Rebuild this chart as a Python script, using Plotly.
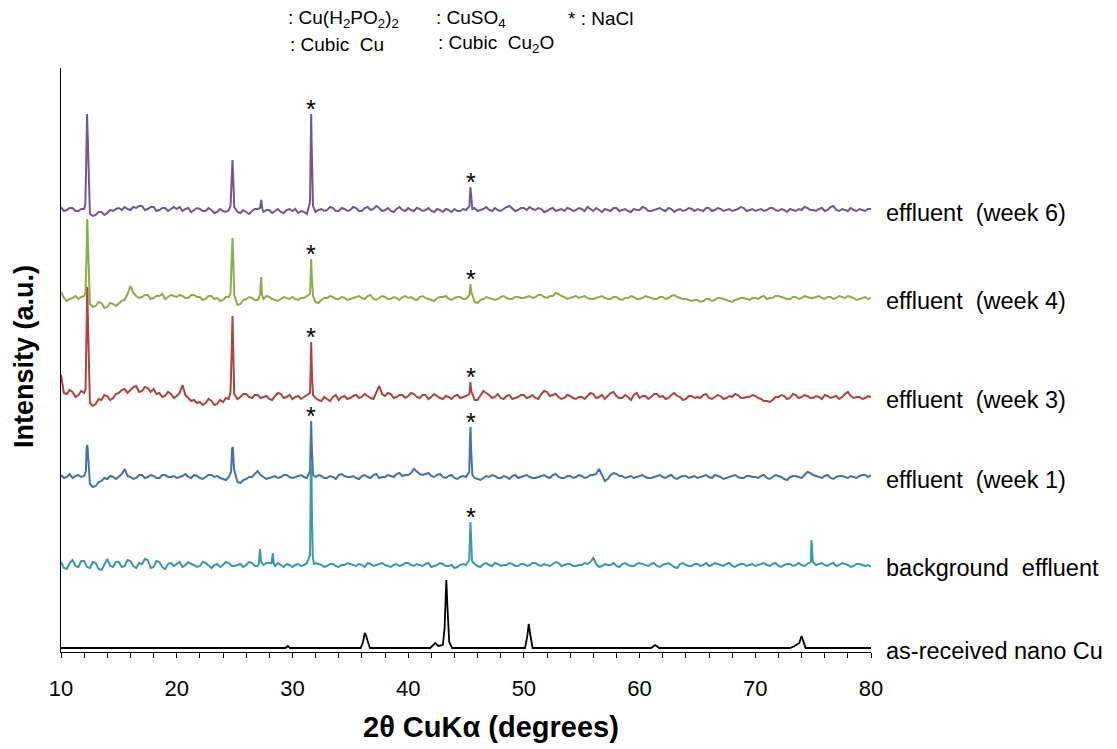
import numpy as np
import plotly.graph_objects as go

# ---------------- data ----------------
grid = np.round(np.arange(10, 80.001, 0.25), 2)  # 2theta sampling of the baselines

labels = ["effluent\u00a0 (week 6)", "effluent\u00a0 (week 4)", "effluent\u00a0 (week 3)",
          "effluent\u00a0 (week 1)", "background\u00a0 effluent", "as-received nano Cu"]
offsets = [442, 354, 255, 175, 87, 4]

base_week6 = [3, -1, 0, 2, 2, -1, -1, 1, 1, 0, -4, -6, -5, -2, -2, -5, -3, 0, -1, 1,
              2, 0, 3, 1, 0, 3, 2, 4, 4, 0, 1, 3, 3, -1, 0, 2, 2, -1, 1, 3,
              1, 3, -1, 1, 2, -2, 0, 2, 1, -1, -1, 2, 0, -3, -2, 1, -1, -2, 0, 2,
              0, -2, -3, 0, -2, -4, -1, 1, 1, -2, -2, 0, 0, -3, -1, 1, -2, -3, 0, 1,
              -1, 1, -3, -1, -2, -4, 0, 1, -2, 0, 1, -1, 0, 3, 2, -1, -1, 2, 1, -1,
              0, 3, 2, -1, -1, 2, 3, 0, 1, 4, 2, -1, 0, 2, -1, -2, 1, 3, 0, -1,
              2, 0, -1, 2, 1, -1, 0, 2, -1, -2, 1, 0, -2, 1, 0, -2, 1, -1, -1, 1,
              0, -1, 0, 2, -1, 0, 1, 3, 0, -1, 2, 0, -1, 1, 3, 4, 1, -1, 0, 2,
              2, 0, 3, 1, 0, 2, 1, -2, -1, 1, 2, -1, 0, 1, -1, 2, 1, -1, 0, 2,
              1, -1, 3, 1, -1, 2, 0, -2, 1, 0, -1, 2, 2, -1, 0, 1, -1, -2, 1, 0,
              0, 3, 2, -1, -1, 0, 1, 2, 0, -1, 2, 1, -2, 0, 1, -1, 0, 2, 1, -1,
              1, 0, -1, 2, 2, -1, 0, 2, 1, -1, 0, 1, -1, 0, 1, 3, 2, -1, 0, 1,
              -1, 0, 1, -1, 0, 2, 2, 0, -1, 1, 0, -2, 1, 0, -1, 1, 0, 3, 2, 0,
              0, -1, 1, 2, -1, 0, 3, 4, 0, -1, 1, 0, -1, 2, 0, -1, 1, 0, -1, 1,
              1]
peak_x_week6 = [12.1, 12.18, 12.25, 12.32, 12.42, 24.65, 24.75, 24.82, 24.9, 24.97,
                27.2, 27.3, 27.4, 31.52, 31.57, 31.62, 31.68, 31.78, 45.3, 45.38, 45.45, 45.55]
peak_y_week6 = [6, 48, 96, 70, 8, 4, 30, 50, 28, 3,
                2, 10, 1, 8, 50, 96, 55, 4, 4, 23, 12, 1]

base_week4 = [6, 0, -3, -1, 0, 2, -1, 1, 2, 0, -6, -9, -8, -4, -5, -10, -9, -5, -6, -8,
              -5, -3, -2, 4, 12, 5, 2, 0, 1, 3, 3, -1, 0, 2, 2, 4, -1, 1, 3, 2,
              1, 3, 2, 0, 0, 3, 3, 1, 1, -2, -1, 2, 2, -1, 0, -3, -2, 1, 1, 3,
              -4, -7, -6, -2, -1, 1, 0, -2, -2, 0, -1, 2, 1, -1, -2, -3, -1, 1, 0, -1,
              1, -1, -2, 0, 0, 2, -1, -2, -4, -5, -2, 0, 0, 2, 1, -1, -1, 1, 0, -2,
              -1, 0, 1, 2, 0, -1, 2, 3, -1, -2, 0, 2, 1, -1, -1, 1, 0, -2, 1, 2,
              0, 1, -1, -2, 1, 2, 0, -1, -2, -3, 0, 1, 1, 2, -1, -2, 0, 1, 1, -1,
              -1, 0, -2, -4, -5, -2, -1, 1, 0, -1, -2, -1, 1, 2, 0, -1, -1, 1, 1, 0,
              0, 1, 2, 0, 1, 3, 3, 1, 0, 2, 2, 5, 4, 2, 1, -1, 0, 1, 2, 0,
              1, 2, 0, -1, -1, 0, 1, 2, 0, -1, -1, 1, 1, -1, -2, 0, 0, 2, 1, -1,
              -1, 0, 2, 1, 0, -1, -1, 1, 1, -1, 0, 2, 3, 1, 0, -1, -1, -2, -3, -2,
              -2, -4, -3, -1, -1, -3, -2, 0, 0, -1, -2, -3, -4, -2, -1, 0, 0, -1, -2, 0,
              0, -1, 1, 2, -1, 0, 0, 2, 2, 1, 0, -1, -1, 1, 1, -1, 0, 2, 1, 0,
              0, 1, 2, 0, -1, 1, 1, -1, 0, 2, 1, 0, 2, 1, 0, -2, -1, 0, 1, -1,
              0]
peak_x_week4 = [12.12, 12.2, 12.27, 12.34, 12.44, 24.65, 24.75, 24.82, 24.9, 24.97,
                27.2, 27.3, 27.38, 31.52, 31.57, 31.62, 31.68, 31.78, 45.3, 45.38, 45.46]
peak_y_week4 = [6, 40, 79, 50, 4, 5, 35, 60, 35, 3,
                3, 21, 3, 4, 20, 39, 20, 2, 3, 14, 6]

base_week3 = [22, 4, 3, 7, 5, 0, 2, 6, 4, 0, -6, -9, -7, -2, -3, 2, 1, -3, -1, 3,
              4, 7, 8, 4, 7, 10, 11, 5, 6, 10, 9, 5, 8, 3, 4, 0, 1, 5, 3, -1,
              1, 4, 12, 2, -1, -4, -3, -6, -5, -8, -6, -2, -4, -8, -7, -3, -5, -1, -2, 0,
              1, -2, 0, 3, 3, 0, -1, 2, 2, -1, 0, 1, -2, -3, 1, 4, 3, -1, 0, 2,
              -2, 0, 1, -2, 0, 2, -3, -1, -1, -3, -4, 0, -2, -4, 0, 2, -3, 0, 1, -2,
              -1, 1, 2, -1, 0, 3, 1, -1, -2, 4, 11, 3, 1, 4, 3, -1, 0, 2, 2, -1,
              1, 4, 3, 0, -1, 2, 2, -2, 0, 3, 1, -1, -2, 1, 0, -2, 1, 2, -1, 0,
              1, -1, 0, -3, -3, 2, 6, 4, 2, -1, 0, 3, -1, -2, 1, 2, -2, -1, 0, 2,
              2, -1, 0, 2, -1, -2, 3, 6, 5, 1, 2, 3, 0, -2, -1, 2, 1, -1, -2, 0,
              0, -2, 1, 4, 3, -1, 0, 2, -2, 1, 4, 5, 1, -1, -1, 2, 0, -3, 2, 4,
              -1, 1, 1, -2, 0, 3, 3, 0, 1, -2, -1, 2, 4, 1, 0, -3, -2, 1, 1, -1,
              0, -1, 2, 3, -1, -2, 0, 2, 1, -2, -1, 1, 0, 3, 2, -1, -1, 0, 0, 2,
              1, -1, -2, -4, -4, -5, -3, 0, 0, 2, 1, -2, -1, 3, 2, -1, 0, 2, 1, -1,
              -1, 1, 0, -2, 2, 1, -1, 0, 1, -2, 0, 3, 5, 1, -1, 0, 0, -2, -1, 1,
              0]
peak_x_week3 = [12.12, 12.2, 12.27, 12.34, 12.44, 24.65, 24.75, 24.82, 24.9, 24.97,
                31.52, 31.57, 31.62, 31.68, 31.78, 45.3, 45.38, 45.46]
peak_y_week3 = [8, 60, 110, 70, 5, 5, 45, 81, 40, 3,
                4, 25, 55, 25, 2, 3, 15, 6]

base_week1 = [2, -1, 0, 3, -1, 1, 2, 0, 1, 0, -7, -10, -9, -5, -4, -1, -2, 1, 0, -2,
              1, 3, 8, 1, 0, -2, -1, 2, 2, -1, 0, 2, 1, -1, -1, 2, 2, 0, 0, 1,
              -1, 0, 1, 3, 0, -1, 2, 1, -1, -2, 0, 2, 2, 0, 1, -1, -2, -3, 0, 2,
              -3, -5, -6, -3, -2, 0, 0, 3, 6, 2, 0, -2, -1, 0, 1, -1, 0, 2, 2, 0,
              -1, 0, 1, 2, 0, -1, -2, -1, 0, 2, 1, -1, -1, 1, 0, -2, 2, 3, 1, 0,
              0, 1, -1, -2, 1, 2, 0, -1, 2, 3, -1, 0, 0, 2, 1, 0, 3, 4, 1, 2,
              2, 4, 8, 5, 3, 2, 3, 4, 1, 0, 2, 3, 0, -1, 1, 2, -1, -2, 0, 1,
              0, 1, 0, -1, -2, -3, -1, 1, 0, 2, 1, -1, -1, 1, 0, -2, 1, 2, -1, 0,
              1, 2, 0, -1, -1, 0, 1, 2, 0, -1, 2, 3, 0, -1, -1, 1, 1, -1, 0, 2,
              1, -1, 0, 2, 2, 3, 8, 2, -4, -2, 2, 4, 3, 1, 1, -1, 0, 1, -1, 0,
              1, 2, 0, -1, -1, 0, 1, 2, 0, -1, 1, 2, -1, -2, 0, 1, 1, -1, 0, 1,
              -1, 0, 1, 2, 0, -1, 2, 1, 0, -2, -1, 0, 1, 2, 0, -1, -1, 1, 1, 0,
              0, -1, 1, 2, -1, -2, 0, 2, 1, 0, -2, -3, 0, 1, 1, 0, -1, 2, 5, 4,
              2, 1, 0, -1, 1, 2, -1, -2, 0, 1, 1, 0, -1, 1, 0, -1, 1, 2, 2, 0,
              2]
peak_x_week1 = [12.15, 12.22, 12.28, 12.35, 12.44, 24.7, 24.78, 24.85, 24.95,
                31.52, 31.57, 31.62, 31.68, 31.78, 45.28, 45.34, 45.39, 45.45, 45.55]
peak_y_week1 = [6, 30, 32, 20, 4, 5, 28, 30, 8,
                6, 32, 56, 28, 2, 5, 36, 50, 25, 2]

base_background = [3, -3, -4, 2, 5, -1, -2, 4, 4, -2, -3, 3, 2, -4, -5, 1, 6, -1, -2, 3,
                   3, -2, -1, 5, 4, -1, -3, 2, 1, 6, 5, -3, -2, 4, 3, -2, -4, 1, 2, -1,
                   1, 3, -2, 0, 3, 1, 0, -2, -1, 3, 2, -1, -3, 0, 1, -2, 0, 3, 2, -1,
                   -1, 0, 1, -2, 0, 3, 2, -1, -1, 1, 0, 2, 2, 0, -1, 2, 0, -2, 1, 0,
                   -2, 0, 1, -1, 0, 2, -1, 0, 2, 1, 0, -2, -1, 1, 1, -1, -2, 0, 0, 2,
                   1, 0, -1, 1, 0, -2, 2, 1, -1, 0, 1, 2, 0, -1, -2, 0, 1, -1, 0, 2,
                   2, 0, -1, 1, 0, -1, 1, 2, -2, -1, 0, 2, 1, -1, -1, 0, -3, -2, 0, 1,
                   0, -1, 0, 1, -1, -2, 1, 2, 0, -1, 2, 1, -1, 0, 0, 2, 1, -1, -1, 1,
                   1, -1, 0, 2, 2, 0, -1, 1, 0, -1, 1, 3, 2, -1, 0, 1, 1, -1, -1, 0,
                   0, 2, 1, 3, 7, 1, -2, -1, 1, 0, 0, 2, -1, -2, 1, 2, 0, -1, -1, 1,
                   2, 1, 0, -1, 1, 2, -1, -2, 0, 1, 2, 0, -2, -3, 1, 2, 0, -1, -1, 1,
                   1, -1, 0, 2, -1, 0, 2, 1, 0, -1, 1, 2, -1, -2, 0, 1, 1, -1, 0, 1,
                   -1, 0, 1, 2, 0, -1, 1, 2, -1, -2, 0, 1, 1, -1, 0, 2, 0, -1, 1, 0,
                   -1, 0, 1, 2, 0, -1, 1, 2, -1, 0, 2, 1, 0, -2, -1, 1, 1, 0, -1, 0,
                   -2]
peak_x_background = [27.1, 27.2, 27.3, 28.2, 28.3, 28.4,
                     31.52, 31.56, 31.6, 31.64, 31.69, 31.76, 31.86,
                     45.28, 45.33, 45.38, 45.44, 45.52,
                     74.8, 74.86, 74.92, 74.98]
peak_y_background = [2, 16, 3, 2, 12, 1,
                     10, 60, 102, 95, 50, 8, 1,
                     5, 30, 43, 28, 4,
                     3, 25, 14, 3]

x_ascu = [10, 29.4, 29.6, 29.8, 35.9, 36.1, 36.25, 36.35, 36.5, 36.7,
          41.9, 42.2, 42.35, 42.6, 43.0, 43.15, 43.3, 43.4, 43.55, 43.8,
          50.1, 50.3, 50.42, 50.52, 50.75, 61.0, 61.35, 61.7,
          73.0, 73.4, 73.8, 74.0, 74.1, 74.35, 80]
y_ascu = [0, 0, 2, 0, 0, 6, 15, 13, 7, 0,
          0, 4, 5, 2, 3, 20, 68, 40, 6, 0,
          0, 12, 24, 16, 0, 0, 3, 0,
          0, 2, 5, 12, 8, 0, 0]

colors = ["#6E5898", "#8CAD4B", "#B0433F", "#4571A9", "#3B98B2", "#000000"]

star_series = [0, 0, 1, 1, 2, 2, 3, 3, 4]
star_x = [31.6, 45.4, 31.6, 45.4, 31.6, 45.4, 31.6, 45.4, 45.4]

x_ticks = [10, 20, 30, 40, 50, 60, 70, 80]

# ---------------- build ----------------
bases = [base_week6, base_week4, base_week3, base_week1, base_background]
pxs = [peak_x_week6, peak_x_week4, peak_x_week3, peak_x_week1, peak_x_background]
pys = [peak_y_week6, peak_y_week4, peak_y_week3, peak_y_week1, peak_y_background]
for b in bases:
    assert len(b) == len(grid), len(b)

fig = go.Figure()
traces_xy = []
for i in range(5):
    pk_x = np.array(pxs[i], float)
    keep = np.array([np.min(np.abs(pk_x - g)) > 0.06 for g in grid])
    xx = np.concatenate([grid[keep], pk_x])
    yy = np.concatenate([np.array(bases[i], float)[keep], np.array(pys[i], float)])
    order = np.argsort(xx, kind="stable")
    traces_xy.append((xx[order], yy[order] + offsets[i]))
traces_xy.append((np.array(x_ascu, float), np.array(y_ascu, float) + offsets[5]))

for i, (xx, yy) in enumerate(traces_xy):
    fig.add_trace(go.Scatter(x=xx, y=yy, mode="lines",
                             line=dict(color=colors[i], width=2.0 if i < 5 else 1.8),
                             showlegend=False, hoverinfo="skip"))

annotations = []
# series labels at right end
for i, (xx, yy) in enumerate(traces_xy):
    annotations.append(dict(x=80, y=offsets[i], xref="x", yref="y", text=labels[i],
                            xanchor="left", yanchor="middle", xshift=13, yshift=-3,
                            showarrow=False, font=dict(size=23.5, color="black")))
# NaCl asterisks
for s, sx in zip(star_series, star_x):
    px = np.array(pxs[s]); py = np.array(pys[s])
    top = py[np.abs(px - sx) < 0.35].max() + offsets[s]
    annotations.append(dict(x=sx, y=top, xref="x", yref="y", text="*",
                            xanchor="center", yanchor="bottom", yshift=-11,
                            showarrow=False, font=dict(size=25, color="black")))

# top legend (symbols not shown, text only)
legend_items = [(286, 19, ": Cu(H<sub>2</sub>PO<sub>2</sub>)<sub>2</sub>"),
                (434, 19, ": CuSO<sub>4</sub>"),
                (566, 19, "* : NaCl"),
                (288, 44, ": Cubic\u00a0 Cu"),
                (436, 44, ": Cubic\u00a0 Cu<sub>2</sub>O")]
for lx, ly, lt in legend_items:
    annotations.append(dict(x=lx / 1117, y=1 - ly / 749, xref="paper", yref="paper",
                            text=lt, xanchor="left", yanchor="middle",
                            showarrow=False, font=dict(size=19, color="black")))

# axis titles
annotations.append(dict(x=491 / 1117, y=1 - 727 / 749, xref="paper", yref="paper",
                        text="<b>2θ CuKα (degrees)</b>", showarrow=False,
                        xanchor="center", yanchor="middle",
                        font=dict(size=29, color="black")))
annotations.append(dict(x=24 / 1117, y=1 - 357 / 749, xref="paper", yref="paper",
                        text="<b>Intensity (a.u.)</b>", showarrow=False, textangle=-90,
                        xanchor="center", yanchor="middle",
                        font=dict(size=27, color="black")))

# convert page-fraction coords used above into plot-area-relative paper coordinates
L, R, T, B = 61, 246, 68, 97
W, H = 1117, 749
pw, ph = W - L - R, H - T - B
for a in annotations:
    if a.get("xref") == "paper":
        a["x"] = (a["x"] * W - L) / pw
        a["y"] = ((a["y"] * H) - B) / ph

fig.update_layout(
    width=W, height=H,
    margin=dict(l=L, r=R, t=T, b=B, pad=0),
    paper_bgcolor="white", plot_bgcolor="white",
    font=dict(family="Liberation Sans, Arial, sans-serif", color="black"),
    annotations=annotations,
)
fig.update_xaxes(range=[10, 80], showgrid=False, zeroline=False,
                 showline=True, linecolor="black", linewidth=1.3,
                 ticks="outside", ticklen=5, tickwidth=1, tickcolor="black",
                 tickvals=x_ticks, ticktext=[str(t) for t in x_ticks],
                 tickfont=dict(size=22, color="black"), ticklabelstandoff=11,
                 minor=dict(dtick=2, tick0=10, ticks="outside", ticklen=5,
                            tickwidth=1, tickcolor="black", showgrid=False))
fig.update_yaxes(range=[0, H - T - B], showgrid=False, zeroline=False,
                 showline=True, linecolor="black", linewidth=1.3,
                 showticklabels=False, ticks="")

fig.write_html("out.html")
